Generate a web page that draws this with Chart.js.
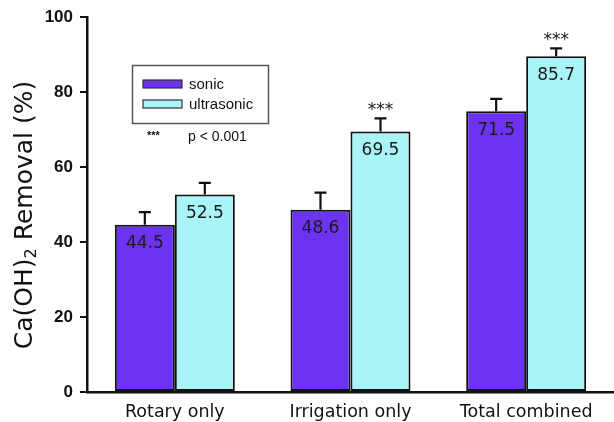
<!DOCTYPE html>
<html><head><meta charset="utf-8">
<script src="https://cdn.jsdelivr.net/npm/chart.js@4.4.1/dist/chart.umd.min.js"></script>
<style>html,body{margin:0;padding:0;background:#fff}#wrap{width:614px;height:422px}</style>
</head><body><div id="wrap"><canvas id="c" width="614" height="422"></canvas></div>
<script>
const categories = ["Rotary only", "Irrigation only", "Total combined"];
const seriesNames = ["sonic", "ultrasonic"];
const sonicValues = [44.6, 48.6, 74.9];
const ultrasonicValues = [52.7, 69.5, 89.6];
const sonicErrors = [3.4, 4.6, 3.3];
const ultrasonicErrors = [3.1, 3.5, 2.1];
const sonicLabels = ["44.5", "48.6", "71.5"];
const ultrasonicLabels = ["52.5", "69.5", "85.7"];
const sonicSignificance = ["", "", ""];
const ultrasonicSignificance = ["", "***", "***"];
const yMin = 0, yMax = 100, yStep = 20;
const yTitleParts = ["Ca(OH)", "2", " Removal (%)"];
const legendNote = ["***", "p < 0.001"];

const SONIC = "#6c34f2";
const ULTRA = "#a9f4f7";

const extras = [
  {errors: sonicErrors, labels: sonicLabels, sig: sonicSignificance},
  {errors: ultrasonicErrors, labels: ultrasonicLabels, sig: ultrasonicSignificance}
];

const overlay = {
  id: "overlay",
  afterDatasetsDraw(chart) {
    const ctx = chart.ctx;
    const y = chart.scales.y;
    chart.data.datasets.forEach((ds, di) => {
      const meta = chart.getDatasetMeta(di);
      const ex = extras[di];
      meta.data.forEach((bar, i) => {
        const v = ds.data[i];
        const top = y.getPixelForValue(v);
        const etop = y.getPixelForValue(v + ex.errors[i]);
        ctx.save();
        ctx.strokeStyle = "#111";
        ctx.lineWidth = 2.2;
        ctx.beginPath();
        ctx.moveTo(bar.x, top);
        ctx.lineTo(bar.x, etop);
        ctx.moveTo(bar.x - 6, etop);
        ctx.lineTo(bar.x + 6, etop);
        ctx.stroke();
        ctx.fillStyle = "#1a1a1a";
        ctx.font = "17px 'DejaVu Sans'";
        ctx.textAlign = "center";
        ctx.textBaseline = "middle";
        ctx.fillText(ex.labels[i], bar.x, top + 19);
        if (ex.sig[i]) {
          ctx.font = "17px 'DejaVu Sans'";
          ctx.textBaseline = "alphabetic";
          ctx.fillText(ex.sig[i], bar.x, etop - 3);
        }
        ctx.restore();
      });
    });
  },
  afterDraw(chart) {
    const ctx = chart.ctx;
    // y title with subscript
    ctx.save();
    ctx.fillStyle = "#111";
    const big = "25px 'DejaVu Sans'", small = "16px 'DejaVu Sans'";
    ctx.font = big; const w0 = ctx.measureText(yTitleParts[0]).width;
    const w2 = ctx.measureText(yTitleParts[2]).width;
    ctx.font = small; const w1 = ctx.measureText(yTitleParts[1]).width;
    const total = w0 + w1 + w2;
    ctx.translate(32, 215);
    ctx.rotate(-Math.PI / 2);
    ctx.textBaseline = "alphabetic";
    ctx.textAlign = "left";
    let x = -total / 2;
    ctx.font = big; ctx.fillText(yTitleParts[0], x, 0); x += w0;
    ctx.font = small; ctx.fillText(yTitleParts[1], x, 4); x += w1;
    ctx.font = big; ctx.fillText(yTitleParts[2], x, 0);
    ctx.restore();

    // legend box
    ctx.save();
    ctx.strokeStyle = "#555";
    ctx.lineWidth = 1.5;
    ctx.strokeRect(132.5, 65.5, 136, 58);
    const colors = [SONIC, ULTRA];
    seriesNames.forEach((n, i) => {
      const yy = 80 + i * 20;
      ctx.fillStyle = colors[i];
      ctx.fillRect(143, yy, 39, 8);
      ctx.strokeStyle = "#333";
      ctx.lineWidth = 1.2;
      ctx.strokeRect(143, yy, 39, 8);
      ctx.fillStyle = "#111";
      ctx.font = "15px 'Liberation Sans'";
      ctx.textBaseline = "middle";
      ctx.textAlign = "left";
      ctx.fillText(n, 189, yy + 4.5);
    });
    ctx.font = "bold 11px 'Liberation Sans'";
    ctx.fillText(legendNote[0], 147, 136);
    ctx.font = "14px 'Liberation Sans'";
    ctx.fillText(legendNote[1], 188, 137);
    ctx.restore();
  }
};

new Chart(document.getElementById("c"), {
  type: "bar",
  data: {
    labels: categories,
    datasets: [
      {label: seriesNames[0], data: sonicValues, backgroundColor: SONIC, borderColor: "#111", borderWidth: 2, borderSkipped: false},
      {label: seriesNames[1], data: ultrasonicValues, backgroundColor: ULTRA, borderColor: "#111", borderWidth: 2, borderSkipped: false}
    ]
  },
  options: {
    responsive: false,
    animation: false,
    devicePixelRatio: 1,
    layout: {padding: {top: 16, right: 0, bottom: 0, left: 0}},
    datasets: {bar: {categoryPercentage: 0.683, barPercentage: 1.0}},
    plugins: {legend: {display: false}, tooltip: {enabled: false}},
    scales: {
      x: {
        grid: {display: false},
        border: {display: true, color: "#111", width: 2.5},
        ticks: {color: "#111", font: {family: "DejaVu Sans", size: 17.5}, padding: 2, maxRotation: 0},
        afterFit(s) { s.height = 30; }
      },
      y: {
        min: yMin, max: yMax,
        grid: {display: true, drawOnChartArea: false, drawTicks: true, tickLength: 7, color: "#111", lineWidth: 2},
        border: {display: true, color: "#111", width: 2.5},
        ticks: {stepSize: yStep, color: "#111", font: {family: "Liberation Sans", size: 17, weight: "bold"}, padding: 7},
        afterFit(s) { s.width = 87; }
      }
    }
  },
  plugins: [overlay]
});
</script></body></html>
